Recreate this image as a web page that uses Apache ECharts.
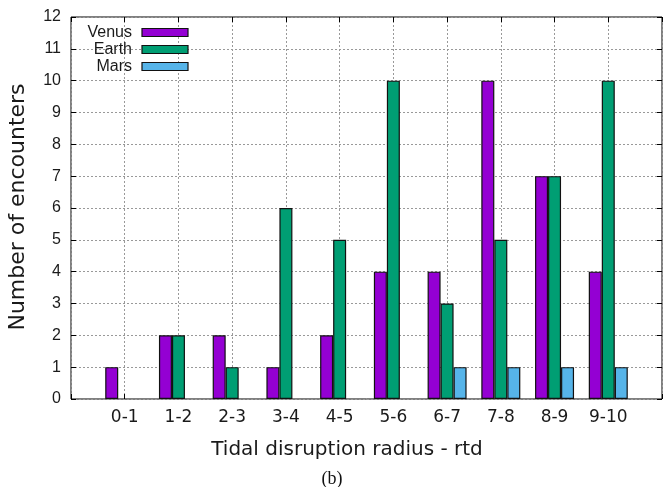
<!DOCTYPE html>
<html><head><meta charset="utf-8">
<script src="https://cdn.jsdelivr.net/npm/echarts@6/dist/echarts.min.js"></script>
<style>html,body{margin:0;padding:0;background:#fff}#c{width:669px;height:487px}</style>
</head><body><div id="c"></div>
<script>
const categories = ['0-1','1-2','2-3','3-4','4-5','5-6','6-7','7-8','8-9','9-10'];
const venus = [1,2,2,1,2,4,4,10,7,4];
const earth = [0,2,1,6,5,10,3,5,7,10];
const mars  = [0,0,0,0,0,0,1,1,1,1];
const yTicks = [0,1,2,3,4,5,6,7,8,9,10,11,12];

const chart = echarts.init(document.getElementById('c'), null, {renderer:'canvas'});
const toPts = arr => arr.map((v,i)=>[i,v]).filter(p=>p[1]!==0);
const barStyle = c => ({color:c, borderColor:'#111', borderWidth:1.2});
const tick = {show:true,inside:true,length:5,lineStyle:{color:'#000'}};
const grid = {type:[2,2],color:'#999',width:1};
const noLine = {show:false,onZero:false};
chart.setOption({
  animation:false,
  backgroundColor:'#fff',
  grid:{left:71,right:7,top:17,bottom:88,show:true,borderColor:'#000',borderWidth:1,backgroundColor:'transparent'},
  legend:{
    orient:'vertical', left:75, top:19, align:'right', icon:'rect', itemWidth:46, itemHeight:8, itemGap:0,
    data:['Venus','Earth','Mars'],
    itemStyle:{borderColor:'#111',borderWidth:1.2},
    textStyle:{fontFamily:'Liberation Sans',fontSize:16,color:'#1a1a1a',width:52,align:'right',lineHeight:17,verticalAlign:'middle',padding:[0,5,0,0]}
  },
  xAxis:[{
    type:'value', min:-1, max:10, interval:1, position:'bottom',
    axisLine:noLine, axisTick:tick,
    splitLine:{show:true,lineStyle:grid},
    axisLabel:{formatter:v=>categories[v]||'', fontFamily:'DejaVu Sans', fontSize:17, color:'#1a1a1a', margin:10}
  },{
    type:'value', min:-1, max:10, interval:1, position:'top',
    axisLine:noLine, axisTick:tick, splitLine:{show:false}, axisLabel:{show:false}
  }],
  yAxis:[{
    type:'value', min:yTicks[0], max:yTicks[yTicks.length-1], interval:1, position:'left',
    axisLine:noLine, axisTick:tick,
    splitLine:{show:true,lineStyle:grid},
    axisLabel:{fontFamily:'Liberation Sans',fontSize:16,color:'#1a1a1a',margin:10}
  },{
    type:'value', min:yTicks[0], max:yTicks[yTicks.length-1], interval:1, position:'right',
    axisLine:noLine, axisTick:tick,
    splitLine:{show:false}, axisLabel:{show:false}
  }],
  series:[
    {name:'Venus',type:'bar',data:toPts(venus),barWidth:13,barGap:'0%',itemStyle:barStyle('#9400D3'),z:3},
    {name:'Earth',type:'bar',data:toPts(earth),barWidth:13,barGap:'0%',itemStyle:barStyle('#009E73'),z:3},
    {name:'Mars',type:'bar',data:toPts(mars),barWidth:13,barGap:'0%',itemStyle:barStyle('#56B4E9'),z:3}
  ],
  graphic:[
    {type:'text',style:{text:'Tidal disruption radius - rtd',x:347,y:450,align:'center',verticalAlign:'middle',font:'20px "DejaVu Sans"',fill:'#1a1a1a'}},
    {type:'text',style:{text:'Number of encounters',x:0,y:0,align:'center',verticalAlign:'middle',font:'22px "DejaVu Sans"',fill:'#1a1a1a'},x:18,y:207,rotation:Math.PI/2},
    {type:'text',style:{text:'(b)',x:332,y:479,align:'center',verticalAlign:'middle',font:'18px "Liberation Serif"',fill:'#111'}}
  ]
});
</script></body></html>
